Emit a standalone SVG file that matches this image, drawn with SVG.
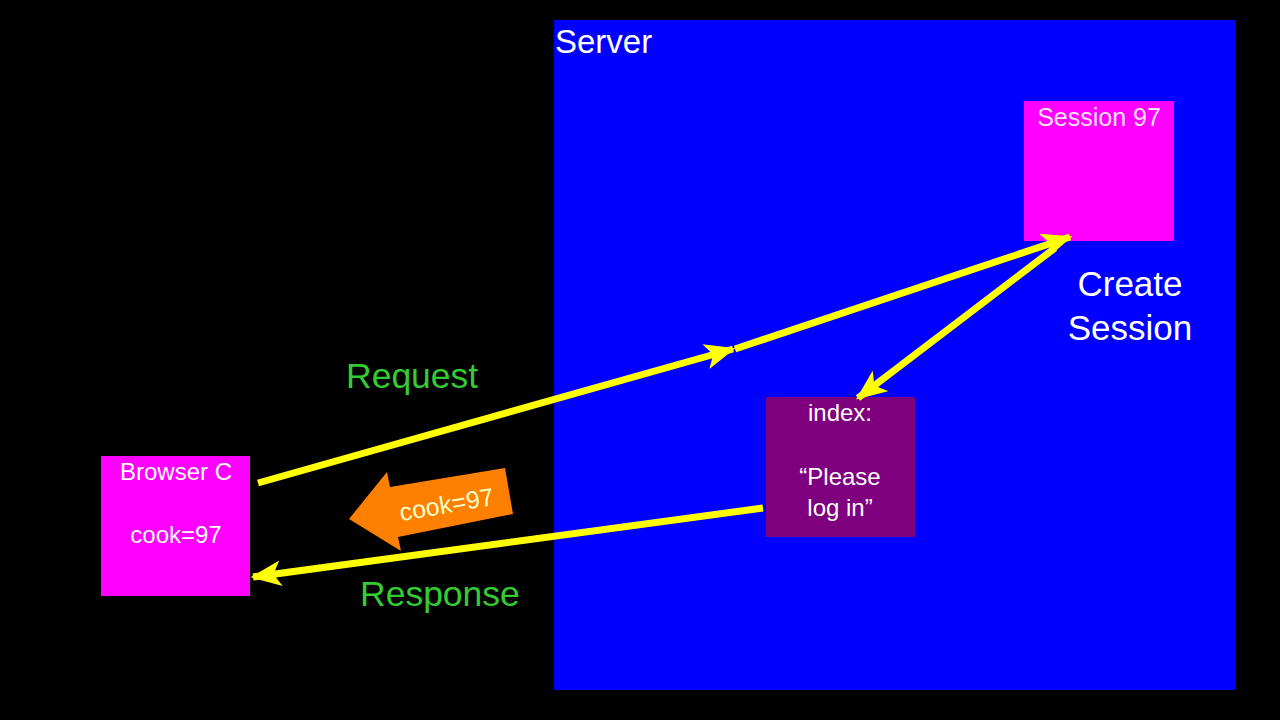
<svg xmlns="http://www.w3.org/2000/svg" width="1280" height="720" viewBox="0 0 1280 720">
<style>
.w{fill:#fff;font-family:"Liberation Sans",Arial,sans-serif}
.g{fill:#33cc33;font-family:"Liberation Sans",Arial,sans-serif;font-size:35.5px}
.box{fill:#ff00ff}
.ln{stroke:#ffff00;stroke-width:7;fill:none}
</style>
<defs>
<marker id="ah" viewBox="0 0 12 10" refX="11" refY="5" markerWidth="4.4" markerHeight="3.7" orient="auto" markerUnits="strokeWidth">
<path d="M0,0 L12,5 L0,10 L3,5 z" fill="#ffff00"/>
</marker>
</defs>
<rect width="1280" height="720" fill="#000"/>
<g id="server">
<rect x="554" y="20" width="682" height="670" fill="#0000ff"/>
<text class="w" x="555" y="53" font-size="33">Server</text>
</g>
<g id="session97">
<rect class="box" x="1024" y="101" width="150" height="140"/>
<text class="w" x="1099" y="126" font-size="25" text-anchor="middle" fill-opacity="0.9">Session 97</text>
</g>
<g id="create-session">
<text class="w" x="1130" y="296" font-size="35" text-anchor="middle">Create</text>
<text class="w" x="1130" y="340" font-size="35" text-anchor="middle">Session</text>
</g>
<g id="index">
<rect x="766" y="397" width="149" height="140" fill="#7f007f"/>
<text class="w" x="840" y="421" font-size="24" text-anchor="middle">index:</text>
<text class="w" x="840" y="485" font-size="24" text-anchor="middle">“Please</text>
<text class="w" x="840" y="516" font-size="24" text-anchor="middle">log in”</text>
</g>
<g id="browser">
<rect class="box" x="101" y="456" width="149" height="140"/>
<text class="w" x="176" y="480" font-size="24" text-anchor="middle">Browser C</text>
<text class="w" x="176" y="543" font-size="24" text-anchor="middle">cook=97</text>
</g>
<g id="labels">
<text class="g" x="346" y="388">Request</text>
<text class="g" x="360" y="606">Response</text>
</g>
<g id="cookie-arrow">
<polygon points="349,519 387,472 390,487 505,468 513,514 398,537 401,551" fill="#ff8000"/>
<text x="448" y="513" font-size="25" text-anchor="middle" fill="#ffffcc" font-family="Liberation Sans, Arial, sans-serif" transform="rotate(-10 448 513)">cook=97</text>
</g>
<g id="connectors">
<line class="ln" x1="258" y1="483" x2="733" y2="349" marker-end="url(#ah)"/>
<line class="ln" x1="735" y1="349" x2="1070" y2="237" marker-end="url(#ah)"/>
<line class="ln" x1="1055" y1="248" x2="858" y2="398" marker-end="url(#ah)"/>
<line class="ln" x1="763" y1="508" x2="253" y2="577" marker-end="url(#ah)"/>
</g>
</svg>
